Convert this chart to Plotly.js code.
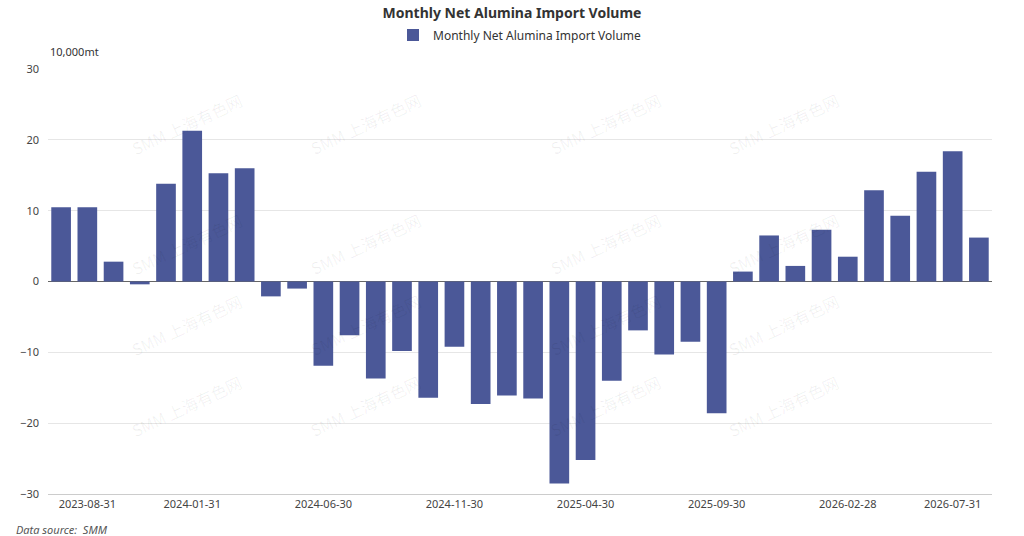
<!DOCTYPE html>
<html><head><meta charset="utf-8">
<script src="https://cdn.plot.ly/plotly-3.0.1.min.js"></script>
<style>body{margin:0}#c{width:1024px;height:536px}</style></head>
<body><div id="c"></div>
<script>
const categories = ["2023-07-31","2023-08-31","2023-09-30","2023-10-31","2023-11-30","2024-01-31","2024-02-29","2024-03-31","2024-04-30","2024-05-31","2024-06-30","2024-07-31","2024-08-31","2024-09-30","2024-10-31","2024-11-30","2024-12-31","2025-01-31","2025-02-28","2025-03-31","2025-04-30","2025-05-31","2025-06-30","2025-07-31","2025-08-31","2025-09-30","2025-10-31","2025-11-30","2025-12-31","2026-01-31","2026-02-28","2026-03-31","2026-04-30","2026-05-31","2026-07-31","2026-08-31"];
const values = [10.5,10.5,2.8,-0.4,13.8,21.3,15.3,16.0,-2.1,-1.0,-11.9,-7.6,-13.7,-9.8,-16.4,-9.2,-17.3,-16.1,-16.5,-28.5,-25.2,-14.0,-6.9,-10.3,-8.5,-18.6,1.4,6.5,2.2,7.3,3.5,12.9,9.3,15.5,18.4,6.2];
const tickLabels = ["2023-08-31","2024-01-31","2024-06-30","2024-11-30","2025-04-30","2025-09-30","2026-02-28","2026-07-31"];
const yTicks = [-30,-20,-10,0,10,20,30];

const L=48,T=69,W=944,H=425;
const px=x=>(x-L)/W, py=y=>(T+H-y)/H;
const annotations = [
 {text:"10,000mt",xref:"paper",yref:"paper",x:px(48),y:py(52),xanchor:"left",yanchor:"middle",showarrow:false,font:{size:11,color:"#333"}},
 {text:"Data source:  SMM",xref:"paper",yref:"paper",x:px(14),y:py(529),xanchor:"left",yanchor:"middle",showarrow:false,font:{size:11,color:"#555",style:"italic"}}
];
const wmX=[125,365,605,845], wmY=[85,205,325,445];
wmY.forEach(yy=>wmX.forEach(xx=>{
  annotations.push({text:"SMM 上海有色网",xref:"paper",yref:"paper",x:px(xx),y:py(yy),showarrow:false,textangle:-25,font:{size:16,color:"rgba(0,0,0,0.06)",family:"Noto Sans CJK SC"}});
}));

Plotly.newPlot("c",[{
  type:"bar",x:categories,y:values,name:"Monthly Net Alumina Import Volume",
  marker:{color:"#4b5898"}
}],{
  width:1024,height:536,
  margin:{l:L,r:1024-L-W,t:T,b:536-T-H},
  font:{family:"Noto Sans, sans-serif",size:11,color:"#333"},
  title:{text:"<b>Monthly Net Alumina Import Volume</b>",x:0.5,xref:"container",yref:"container",y:1-13/536,yanchor:"middle",font:{size:14,color:"#333"}},
  showlegend:true,
  legend:{orientation:"h",x:0.5,xanchor:"center",yref:"container",y:1-35/536,yanchor:"middle",font:{size:12}},
  bargap:0.25,
  xaxis:{type:"category",tickmode:"array",tickvals:tickLabels,ticktext:tickLabels,showgrid:false,showline:true,linecolor:"#ccc",ticks:"",tickfont:{size:11,color:"#444"},automargin:false},
  yaxis:{range:[-30,30],tickvals:yTicks,gridcolor:"#e6e6e6",zeroline:true,zerolinecolor:"#666",zerolinewidth:1,tickfont:{size:11,color:"#444"},ticklabelstandoff:8,automargin:false},
  annotations:annotations,
  plot_bgcolor:"#fff",paper_bgcolor:"#fff"
},{displayModeBar:false});
</script></body></html>
